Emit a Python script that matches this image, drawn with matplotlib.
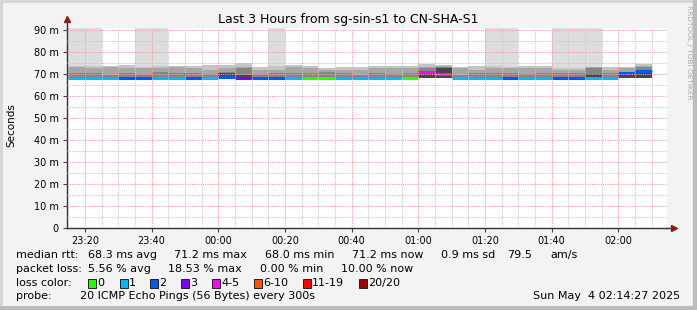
import matplotlib.pyplot as plt
from matplotlib import patches
from matplotlib.lines import Line2D
from matplotlib.ticker import MultipleLocator, FuncFormatter

W, H = 697, 310

# minutes relative to 00:00, each bar covers [start, start + 5)
bar_start = list(range(-45, 130, 5))

loss = [1, 1, 1, 2, 2, 1, 1, 2, 1, 2, 3, 2, 2, 1, 0, 0, 1, 1,
        1, 1, 0, 4, 4, 1, 1, 1, 2, 1, 1, 2, 2, 1, 1, 2, 2]

median = [68.0, 68.0, 68.1, 68.0, 68.0, 68.1, 68.0, 68.0, 68.1, 68.5, 68.3, 68.0,
          68.0, 68.1, 68.0, 68.0, 68.1, 68.0, 68.0, 68.1, 68.0, 70.7, 70.0, 68.0,
          68.0, 68.1, 68.0, 68.0, 68.1, 68.0, 68.0, 68.1, 68.0, 70.6, 71.2]

ping_min = [67.7, 67.7, 67.8, 67.7, 67.7, 67.8, 67.7, 67.7, 67.8, 68.2, 68.0, 67.7,
            67.7, 67.8, 67.7, 67.7, 67.8, 67.7, 67.7, 67.8, 67.7, 68.4, 68.3, 67.7,
            67.7, 67.8, 67.7, 67.7, 67.8, 67.7, 67.7, 67.8, 67.7, 68.3, 68.4]

# smoke layers, light -> dark (upper edge of each layer)
smoke_top = [73.8, 73.8, 73.8, 74.1, 73.3, 73.8, 73.8, 73.8, 74.1, 74.1, 74.9, 73.3,
             73.8, 74.1, 73.8, 72.6, 73.3, 73.3, 73.8, 73.8, 73.8, 74.4, 74.1, 73.3,
             73.8, 73.8, 73.3, 73.8, 73.8, 72.6, 72.9, 73.3, 73.3, 73.3, 74.4]
smoke_q3 = [73.0, 72.6, 73.0, 72.6, 72.6, 72.6, 73.0, 72.8, 71.8, 72.6, 73.3, 71.8,
            71.8, 73.3, 72.6, 72.0, 71.8, 72.0, 72.6, 72.6, 72.6, 73.3, 73.5, 72.6,
            71.8, 72.6, 72.6, 72.8, 72.6, 71.8, 72.0, 73.0, 71.8, 72.6, 73.5]
smoke_q2 = [70.3, 70.3, 69.5, 70.5, 70.0, 71.0, 70.3, 70.3, 70.0, 71.0, 72.6, 70.0,
            70.3, 70.3, 70.3, 71.0, 70.3, 69.5, 70.3, 70.0, 70.3, 72.9, 73.0, 69.5,
            70.3, 70.3, 70.3, 69.8, 70.3, 70.3, 70.3, 72.6, 70.3, 71.0, 73.0]
smoke_q1 = [68.0, 68.0, 68.1, 68.0, 68.0, 68.1, 68.0, 68.0, 68.1, 70.3, 69.5, 68.0,
            68.0, 68.1, 68.0, 68.0, 68.1, 68.0, 68.0, 68.1, 68.0, 71.5, 72.6, 68.0,
            68.0, 68.1, 68.0, 68.0, 68.1, 68.0, 68.0, 70.0, 68.0, 70.3, 71.5]
# slowest ping of each step (some go far off the chart)
ping_max = [160, 150, 73.8, 74.1, 140, 170, 73.8, 73.8, 74.1, 74.1, 74.9, 73.3,
            130, 74.1, 73.8, 72.6, 73.3, 73.3, 73.8, 73.8, 73.8, 74.4, 74.1, 73.3,
            73.8, 150, 120, 73.8, 73.8, 140, 160, 130, 73.3, 73.3, 74.4]

loss_labels = ["0", "1", "2", "3", "4-5", "6-10", "11-19", "20/20"]
loss_colors = ["#26ff00", "#00b8ff", "#0059ff", "#7e00ff", "#ff00ff", "#ff5500", "#ff0000", "#a10000"]


def loss_color(n):
    if n <= 3:
        return loss_colors[n]
    if n <= 5:
        return loss_colors[4]
    if n <= 10:
        return loss_colors[5]
    if n <= 19:
        return loss_colors[6]
    return loss_colors[7]


fig = plt.figure(figsize=(W / 100, H / 100), dpi=100, facecolor="#f3f3f3")

x0, x1, ytop, ybot = 67, 667, 28, 228
ax = fig.add_axes([x0 / W, 1 - ybot / H, (x1 - x0) / W, (ybot - ytop) / H])
ax.set_facecolor("white")
ax.set_xlim(-45.4, 134.6)
ax.set_ylim(0, 90 * (ybot - ytop) / 198)

# smoke, lightest first
layers = [(ping_max, "#dddddd"), (smoke_top, "#c4c4c4"), (smoke_q3, "#a6a6a6"),
          (smoke_q2, "#858585"), (smoke_q1, "#454545")]
for level, col in layers:
    hts = [l - b for l, b in zip(level, ping_min)]
    ax.bar(bar_start, hts, bottom=ping_min, width=5, align="edge",
           color=col, linewidth=0, zorder=1)

ax.hlines(median, bar_start, [s + 5 for s in bar_start],
          colors=[loss_color(n) for n in loss], linewidth=2.2, zorder=2)

# grid
ax.xaxis.set_major_locator(MultipleLocator(20))
ax.xaxis.set_minor_locator(MultipleLocator(5))
ax.yaxis.set_major_locator(MultipleLocator(10))
ax.yaxis.set_minor_locator(MultipleLocator(5))
ax.grid(which="minor", color="#c8c8c8", linestyle=(0, (1, 1)), linewidth=0.8)
ax.grid(which="major", color="#f4a0a0", linestyle=(0, (1, 1)), linewidth=0.8)
ax.set_axisbelow(False)


def fmt_time(v, pos):
    m = int(round(v)) % 1440
    return f"{m // 60:02d}:{m % 60:02d}"


ax.xaxis.set_major_formatter(FuncFormatter(fmt_time))
ax.yaxis.set_major_formatter(FuncFormatter(lambda v, p: "0" if v == 0 else f"{v:.0f} m"))
ax.set_yticks(range(0, 91, 10))
ax.tick_params(which="major", length=3, width=0.8, labelsize=7, color="#404040", pad=3)
ax.tick_params(which="minor", length=0)

for s in ["top", "right"]:
    ax.spines[s].set_visible(False)
for s in ["left", "bottom"]:
    ax.spines[s].set_color("#303030")
    ax.spines[s].set_linewidth(1)

# axis arrows
ax.add_line(Line2D([0, 0], [1, 1.04], transform=ax.transAxes, color="#303030", lw=1, clip_on=False))
ax.add_line(Line2D([1, 1.01], [0, 0], transform=ax.transAxes, color="#303030", lw=1, clip_on=False))
ax.plot([0], [1.045], marker="^", ms=4.5, color="#8b1a1a", transform=ax.transAxes, clip_on=False)
ax.plot([1.012], [0], marker=">", ms=4.5, color="#8b1a1a", transform=ax.transAxes, clip_on=False)

fig.text(348 / W, 1 - 19 / H, "Last 3 Hours from sg-sin-s1 to CN-SHA-S1",
         ha="center", va="center", fontsize=9)
fig.text(11 / W, 1 - 125 / H, "Seconds", rotation=90, ha="center", va="center", fontsize=7.5)
fig.text(689 / W, 1 - 5 / H, "RRDTOOL / TOBI OETIKER", rotation=270, ha="center", va="top",
         fontsize=5.3, color="#aaaaaa")


def put(x, y, s, **kw):
    fig.text(x / W, 1 - y / H, s, va="center", fontsize=8, **kw)


r1, r2, r3, r4 = 255, 269, 283, 296
put(16, r1, "median rtt:")
for x, s in [(88, "68.3 ms avg"), (174, "71.2 ms max"), (265, "68.0 ms min"),
             (352, "71.2 ms now"), (441, "0.9 ms sd"), (507, "79.5"), (550, "am/s")]:
    put(x, r1, s)
put(16, r2, "packet loss:")
for x, s in [(88, "5.56 % avg"), (168, "18.53 % max"), (260, "0.00 % min"), (341, "10.00 % now")]:
    put(x, r2, s)
put(16, r3, "loss color:")
box_x = [88, 120, 150, 181, 212, 254, 303, 359]
for bx, lab, col in zip(box_x, loss_labels, loss_colors):
    fig.add_artist(patches.Rectangle((bx / W, 1 - (r3 + 4.5) / H), 8 / W, 9 / H,
                                     transform=fig.transFigure, facecolor=col,
                                     edgecolor="#202020", linewidth=0.7))
    put(bx + 9, r3, lab)
put(16, r4, "probe:")
put(80, r4, "20 ICMP Echo Pings (56 Bytes) every 300s")
put(680, r4, "Sun May  4 02:14:27 2025", ha="right")

# canvas frame
fig.add_artist(Line2D([0, 1], [1 - 1 / H, 1 - 1 / H], transform=fig.transFigure, color="#d6d6d6", lw=2))
fig.add_artist(Line2D([1 / W, 1 / W], [0, 1], transform=fig.transFigure, color="#d6d6d6", lw=2))
fig.add_artist(Line2D([1 - 2 / W, 1 - 2 / W], [0, 1], transform=fig.transFigure, color="#bcbcbc", lw=3))
fig.add_artist(Line2D([0, 1], [2 / H, 2 / H], transform=fig.transFigure, color="#bcbcbc", lw=3))

fig.savefig("out.png", dpi=100, facecolor=fig.get_facecolor())
